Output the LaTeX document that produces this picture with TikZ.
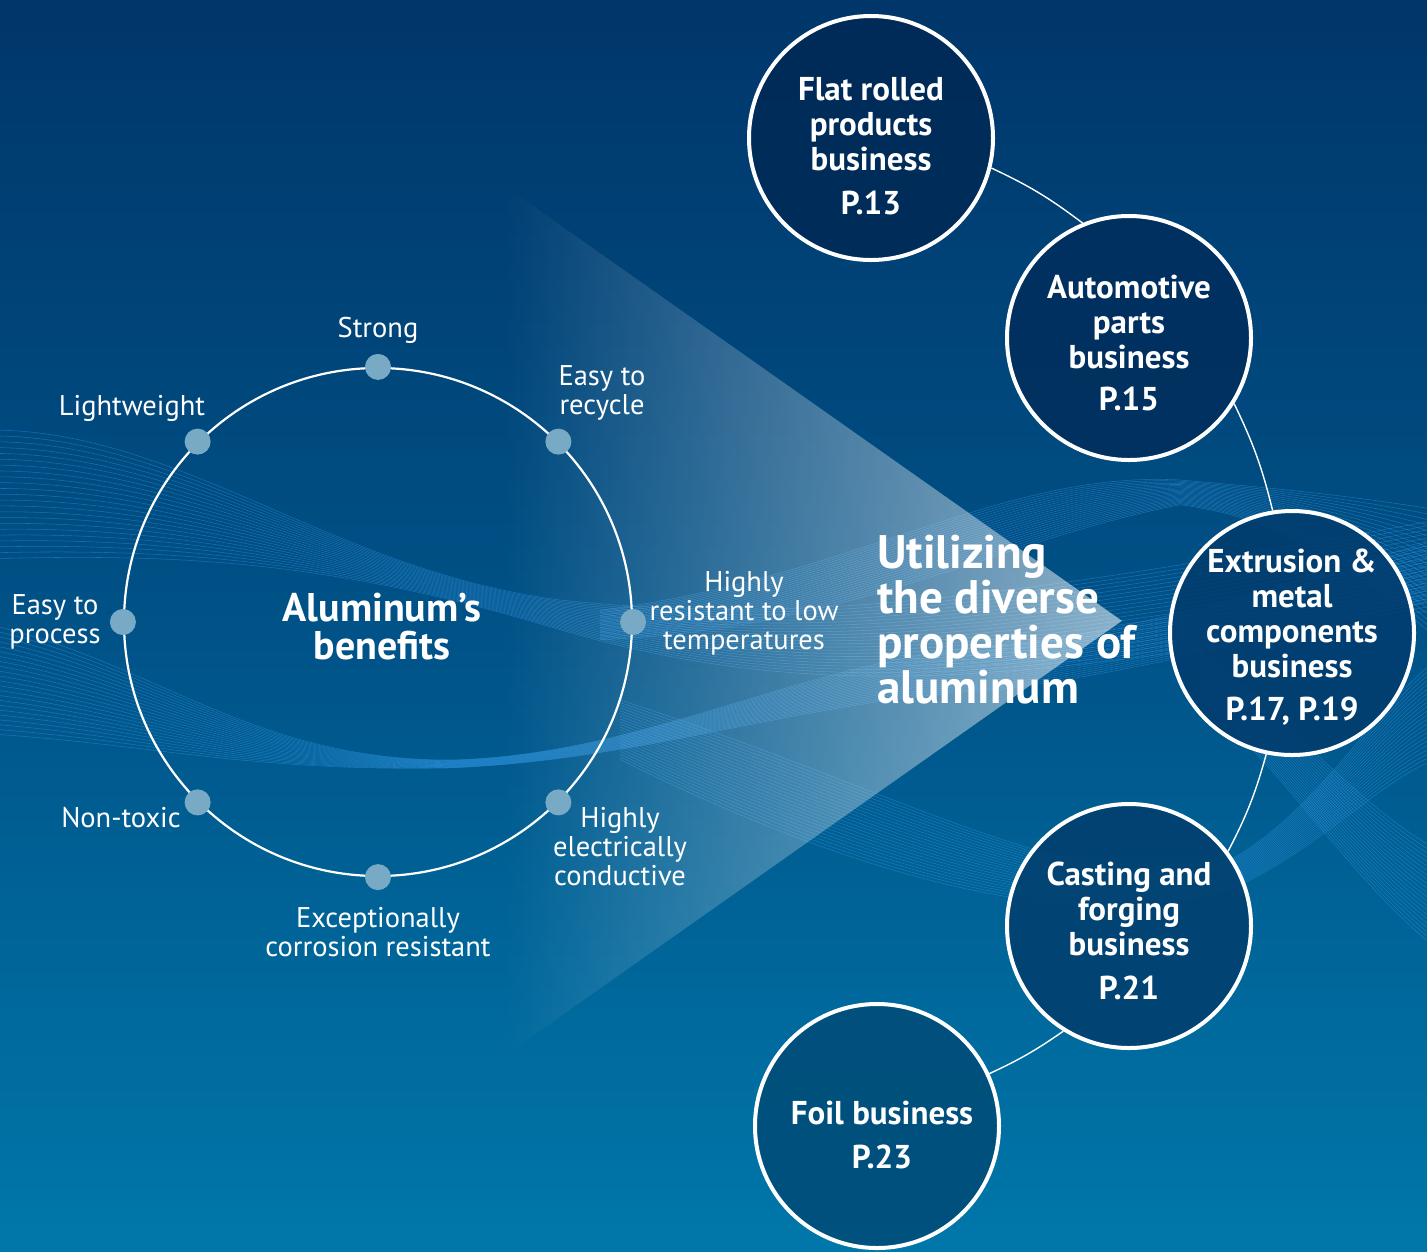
\documentclass[tikz,border=0pt]{standalone}
\usepackage{fontspec}
\setmainfont{PT Sans}
\usetikzlibrary{calc,fadings}
\definecolor{bgtop}{HTML}{00366A}
\definecolor{bgmid}{HTML}{005287}
\definecolor{bgbot}{HTML}{0077AA}
\definecolor{dotc}{HTML}{78AAC6}
\definecolor{wavec}{HTML}{3AA2F2}
\definecolor{cflat}{HTML}{002A56}
\definecolor{cauto}{HTML}{002E5C}
\definecolor{cextr}{HTML}{023C6E}
\definecolor{ccast}{HTML}{023F6E}
\definecolor{cfoil}{HTML}{004C78}
\tikzset{
  biz/.style={circle, draw=white, line width=4pt, minimum size=244pt, inner sep=0pt, fill opacity=0.88, draw opacity=1},
  biztext/.style={text=white, font=\fontsize{33}{35}\selectfont\bfseries, align=center},
  lbl/.style={text=white, font=\fontsize{28.5}{29}\selectfont, align=center, inner sep=0pt},
  dotn/.style={circle, fill=dotc, minimum size=26pt, inner sep=0pt},
  wave/.style={draw=wavec, line width=0.55pt, opacity=0.4},
  link/.style={draw=white, line width=1.4pt},
}
\begin{document}
\begin{tikzpicture}[x=1pt,y=-1pt]
\useasboundingbox (0,0) rectangle (1427,1251);
\clip (0,0) rectangle (1427,1251);
% background
\fill[top color=bgtop, bottom color=bgbot, middle color=bgmid] (0,0) rectangle (1427,1251);

% wave bundles
\foreach \t in {0,0.045,...,1.0} {
  \draw[wave] ($(-10,430)!\t!(-10,560)$) .. controls ($(180,430)!\t!(180,555)$) and ($(330,570)!\t!(330,560)$) .. ($(560,600)!\t!(560,630)$) .. controls ($(800,625)!\t!(800,700)$) and ($(1000,600)!\t!(1000,690)$) .. ($(1437,520)!\t!(1437,610)$);
  \draw[wave] ($(-10,625)!\t!(-10,735)$) .. controls ($(150,660)!\t!(150,745)$) and ($(250,760)!\t!(250,772)$) .. ($(450,760)!\t!(450,768)$) .. controls ($(650,755)!\t!(650,760)$) and ($(800,660)!\t!(800,700)$) .. ($(1000,645)!\t!(1000,690)$) .. controls ($(1150,630)!\t!(1150,670)$) and ($(1300,580)!\t!(1300,630)$) .. ($(1437,540)!\t!(1437,600)$);
  \draw[wave] ($(600,610)!\t!(600,640)$) .. controls ($(850,580)!\t!(850,630)$) and ($(1000,470)!\t!(1000,540)$) .. ($(1180,480)!\t!(1180,505)$) .. controls ($(1300,490)!\t!(1300,520)$) and ($(1380,500)!\t!(1380,590)$) .. ($(1437,510)!\t!(1437,640)$);
  \draw[wave] ($(620,700)!\t!(620,760)$) .. controls ($(900,790)!\t!(900,900)$) and ($(1100,910)!\t!(1100,930)$) .. ($(1230,860)!\t!(1230,890)$) .. controls ($(1320,810)!\t!(1320,850)$) and ($(1380,700)!\t!(1380,780)$) .. ($(1437,660)!\t!(1437,760)$);
  \draw[wave] ($(1200,650)!\t!(1200,700)$) .. controls ($(1280,710)!\t!(1280,765)$) and ($(1350,800)!\t!(1350,880)$) .. ($(1437,850)!\t!(1437,950)$);
}

% funnel
\fill[white, fill opacity=0.55, path fading=west] (505,185) -- (1122,620) -- (505,1055) -- cycle;

% benefits circle
\node[circle, draw=white, line width=2.2pt, minimum size=508pt, inner sep=0pt] (ben) at (378,622) {};
\node[text=white, font=\fontsize{40}{38}\selectfont\bfseries, align=center] (benT) at (382,627) {Aluminum’s\\benefits};
\foreach \a/\n in {90/d1,45/d2,0/d3,-45/d4,-90/d5,-135/d6,180/d7,135/d8} {
  \node[dotn] (\n) at (ben.\a) {};
}
\node[lbl] (lStrong) at (378,330) {Strong};
\node[lbl] (lRecyc) at (602,393) {Easy to\\recycle};
\node[lbl] (lLow) at (744,613) {Highly\\resistant to low\\temperatures};
\node[lbl] (lElec) at (620,847) {Highly\\electrically\\conductive};
\node[lbl] (lCorr) at (378,932) {Exceptionally\\corrosion resistant};
\node[lbl] (lTox) at (121,818) {Non-toxic};
\node[lbl] (lProc) at (55,622) {Easy to\\process};
\node[lbl] (lLight) at (132,408) {Lightweight};

% headline
\node[text=white, font=\fontsize{47}{45}\selectfont\bfseries, align=left, anchor=west, inner sep=0pt] (head) at (877,620) {Utilizing\\the diverse\\properties of\\aluminum};

% business circles
\node[biz, fill=cflat] (flat) at (871,138) {};
\node[biz, fill=cauto] (auto) at (1129,338) {};
\node[biz, fill=cextr] (extr) at (1292,633) {};
\node[biz, fill=ccast] (cast) at (1129,926) {};
\node[biz, fill=cfoil] (foil) at (877,1126) {};

% links along the big arc
\draw[link] (flat.-14) to[bend left=6] (auto.112);
\draw[link] (auto.-32) to[bend left=6] (extr.99);
\draw[link] (extr.-102) to[bend left=6] (cast.37);
\draw[link] (cast.-122) to[bend left=5] (foil.25);

\node[biztext] (flatT) at (871,146) {Flat rolled\\products\\business\\[9pt]P.13};
\node[biztext] (autoT) at (1129,343) {Automotive\\parts\\business\\[7pt]P.15};
\node[biztext] (extrT) at (1292,637) {Extrusion \&\\metal\\components\\business\\[8pt]P.17, P.19};
\node[biztext] (castT) at (1129,931) {Casting and\\forging\\business\\[9pt]P.21};
\node[biztext] (foilT) at (882,1135) {Foil business\\[9pt]P.23};
\end{tikzpicture}
\end{document}
